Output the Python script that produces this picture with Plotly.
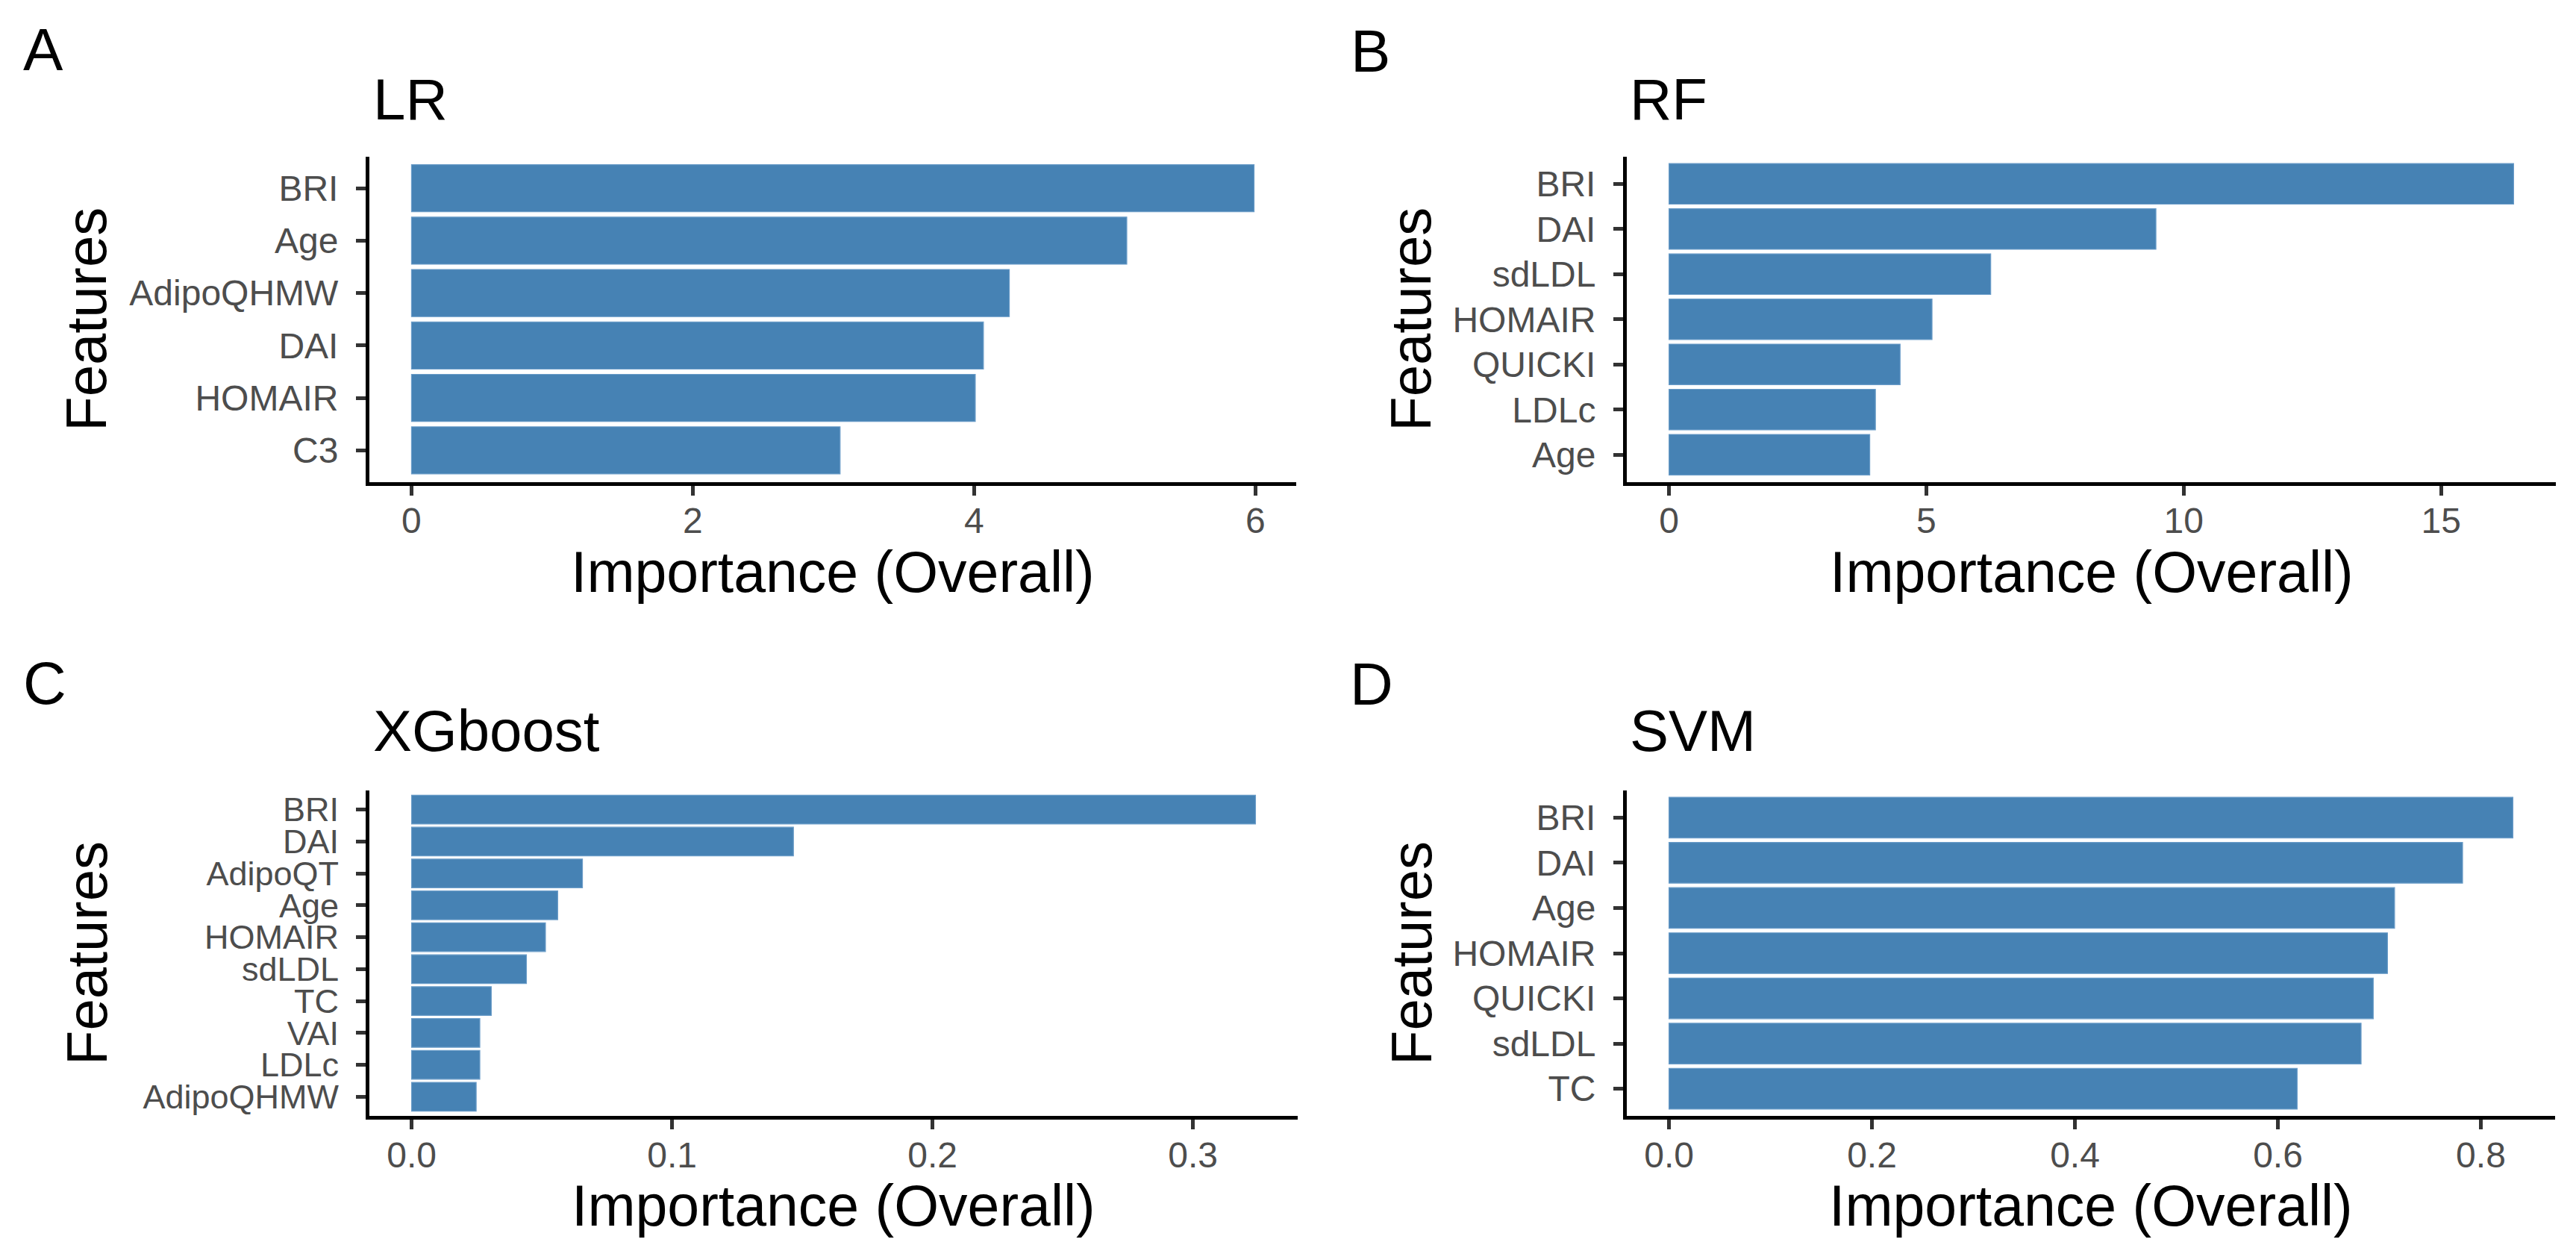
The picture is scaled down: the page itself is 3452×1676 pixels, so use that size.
import plotly.graph_objects as go

# ---- data ----
lr_features = ["BRI", "Age", "AdipoQHMW", "DAI", "HOMAIR", "C3"]
lr_values = [5.99, 5.085, 4.25, 4.066, 4.008, 3.047]

rf_features = ["BRI", "DAI", "sdLDL", "HOMAIR", "QUICKI", "LDLc", "Age"]
rf_values = [16.41, 9.46, 6.25, 5.11, 4.49, 4.01, 3.90]

xgb_features = ["BRI", "DAI", "AdipoQT", "Age", "HOMAIR", "sdLDL", "TC", "VAI", "LDLc", "AdipoQHMW"]
xgb_values = [0.324, 0.1466, 0.0656, 0.0561, 0.0514, 0.0441, 0.0306, 0.0262, 0.0262, 0.0248]

svm_features = ["BRI", "DAI", "Age", "HOMAIR", "QUICKI", "sdLDL", "TC"]
svm_values = [0.8316, 0.782, 0.715, 0.708, 0.694, 0.682, 0.619]

titles = ["LR", "RF", "XGboost", "SVM"]
letters = ["A", "B", "C", "D"]
x_ticks = [[0, 2, 4, 6], [0, 5, 10, 15], [0.0, 0.1, 0.2, 0.3], [0.0, 0.2, 0.4, 0.6, 0.8]]
x_tick_text = [["0", "2", "4", "6"], ["0", "5", "10", "15"],
               ["0.0", "0.1", "0.2", "0.3"], ["0.0", "0.2", "0.4", "0.6", "0.8"]]

W, H = 3452, 1676
FONT = "Liberation Sans, Arial, Helvetica, sans-serif"
BAR = "#4682B4"

# panel geometry in pixels: (left, right, top, bottom)
panels_px = [(487, 1729, 202, 637.5), (2172, 3417, 202, 637.5),
             (487, 1731, 1051, 1487), (2172, 3416, 1051, 1487)]
feat_title_x = [108, 1883, 108, 1883]
title_px = [(490, 125.5), (2174, 125.5), (490, 971.5), (2174, 971.5)]
letter_px = [(21, 59), (1800, 61), (21, 907), (1799, 908)]
ylabel_size = [48, 48, 45, 48]


def px_x(v):
    return v / W


def px_y(v):
    return 1 - v / H


data = [(lr_features, lr_values), (rf_features, rf_values),
        (xgb_features, xgb_values), (svm_features, svm_values)]

fig = go.Figure()
annotations = []
for i, (feats, vals) in enumerate(data):
    k = "" if i == 0 else str(i + 1)
    l, r, t, b = panels_px[i]
    fig.add_trace(go.Bar(
        x=vals, y=feats, orientation="h", width=0.9,
        marker=dict(color=BAR, line=dict(width=1.2, color="#6a9cc8")),
        xaxis="x" + k, yaxis="y" + k, showlegend=False, hoverinfo="x+y"))
    vmax = max(vals)
    n = len(feats)
    axis_common = dict(showgrid=False, zeroline=False, showline=True,
                       linecolor="black", linewidth=5, ticks="outside",
                       ticklen=13, tickwidth=5, tickcolor="#333333")
    fig.update_layout(**{
        "xaxis" + k: dict(domain=[px_x(l), px_x(r)], anchor="y" + k,
                          range=[-0.05 * vmax, 1.05 * vmax],
                          tickmode="array", tickvals=x_ticks[i], ticktext=x_tick_text[i],
                          ticklabelstandoff=-7,
                          tickfont=dict(family=FONT, size=48, color="#4D4D4D"),
                          **axis_common),
        "yaxis" + k: dict(domain=[px_y(b), px_y(t)], anchor="x" + k,
                          type="category", categoryorder="array",
                          categoryarray=feats[::-1], range=[-0.6, n - 0.4],
                          tickmode="array", tickvals=feats, ticktext=feats,
                          ticklabelstandoff=14,
                          tickfont=dict(family=FONT, size=ylabel_size[i], color="#4D4D4D"),
                          **axis_common),
    })
    # axis titles
    annotations.append(dict(text="Importance (Overall)", xref="paper", yref="paper",
                            x=px_x((l + r) / 2), y=px_y(b + 120), xanchor="center",
                            yanchor="middle", showarrow=False,
                            font=dict(family=FONT, size=77, color="black")))
    annotations.append(dict(text="Features", xref="paper", yref="paper",
                            x=px_x(feat_title_x[i]), y=px_y((t + b) / 2), xanchor="center",
                            yanchor="middle", textangle=-90, showarrow=False,
                            font=dict(family=FONT, size=76, color="black")))
    annotations.append(dict(text=titles[i], xref="paper", yref="paper",
                            x=px_x(title_px[i][0]), y=px_y(title_px[i][1]), xanchor="left",
                            yanchor="middle", showarrow=False,
                            font=dict(family=FONT, size=78, color="black")))
    annotations.append(dict(text=letters[i], xref="paper", yref="paper",
                            x=px_x(letter_px[i][0]), y=px_y(letter_px[i][1]), xanchor="left",
                            yanchor="middle", showarrow=False,
                            font=dict(family=FONT, size=80, color="black")))

fig.update_layout(width=W, height=H, autosize=False,
                  margin=dict(l=0, r=0, t=0, b=0),
                  paper_bgcolor="white", plot_bgcolor="white",
                  bargap=0.1, annotations=annotations)

fig.write_html("out.html")
